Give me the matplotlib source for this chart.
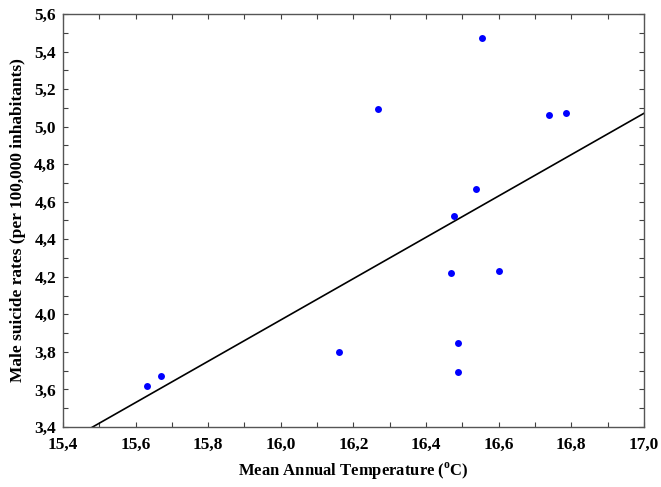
import numpy as np
import matplotlib
matplotlib.use("Agg")
import matplotlib.pyplot as plt
from matplotlib.ticker import MultipleLocator, FuncFormatter

plt.rcParams['font.family'] = 'Liberation Serif'
plt.rcParams['font.weight'] = 'bold'
plt.rcParams['mathtext.fontset'] = 'custom'
plt.rcParams['mathtext.rm'] = 'Liberation Serif:bold'
plt.rcParams['mathtext.bf'] = 'Liberation Serif:bold'

# mean annual temperature (C) and male suicide rates per 100,000
temp = [15.632, 15.669, 16.160, 16.269, 16.470, 16.476, 16.488,
        16.488, 16.538, 16.554, 16.601, 16.740, 16.786]
rate = [3.618, 3.670, 3.799, 5.092, 4.222, 4.522, 3.849,
        3.693, 4.669, 5.474, 4.231, 5.060, 5.074]

temp = np.array(temp)
rate = np.array(rate)

# linear fit
slope, intercept = np.polyfit(temp, rate, 1)
xfit = np.array([15.4, 17.0])

fig = plt.figure(figsize=(6.61, 4.87), dpi=100)
ax = fig.add_axes([0.0953, 0.1232, 0.8787, 0.8481])

ax.plot(xfit, slope * xfit + intercept, color='black', linewidth=1.2)
ax.plot(temp, rate, 'o', color='#0000ff', markersize=5, markeredgewidth=0)

ax.set_xlim(15.4, 17.0)
ax.set_ylim(3.4, 5.6)

ax.xaxis.set_major_locator(MultipleLocator(0.2))
ax.xaxis.set_minor_locator(MultipleLocator(0.1))
ax.yaxis.set_major_locator(MultipleLocator(0.2))
ax.yaxis.set_minor_locator(MultipleLocator(0.1))

comma = FuncFormatter(lambda v, p: f"{v:.1f}".replace('.', ','))
ax.xaxis.set_major_formatter(comma)
ax.yaxis.set_major_formatter(comma)

ax.tick_params(which='both', direction='in', top=True, right=True,
               length=3.5, width=0.8, color='#404040', labelsize=12.5)
ax.tick_params(axis='x', pad=7)
ax.tick_params(axis='y', pad=5)

for s in ax.spines.values():
    s.set_color('#555555')
    s.set_linewidth(1.0)

ax.set_xlabel(r"Mean Annual Temperature ($^{\rm o}$C)", fontsize=12,
              fontweight='bold', labelpad=6)
ax.set_ylabel("Male suicide rates (per 100,000 inhabitants)", fontsize=12.5,
              fontweight='bold', labelpad=6)

fig.savefig("out.png", dpi=100)
